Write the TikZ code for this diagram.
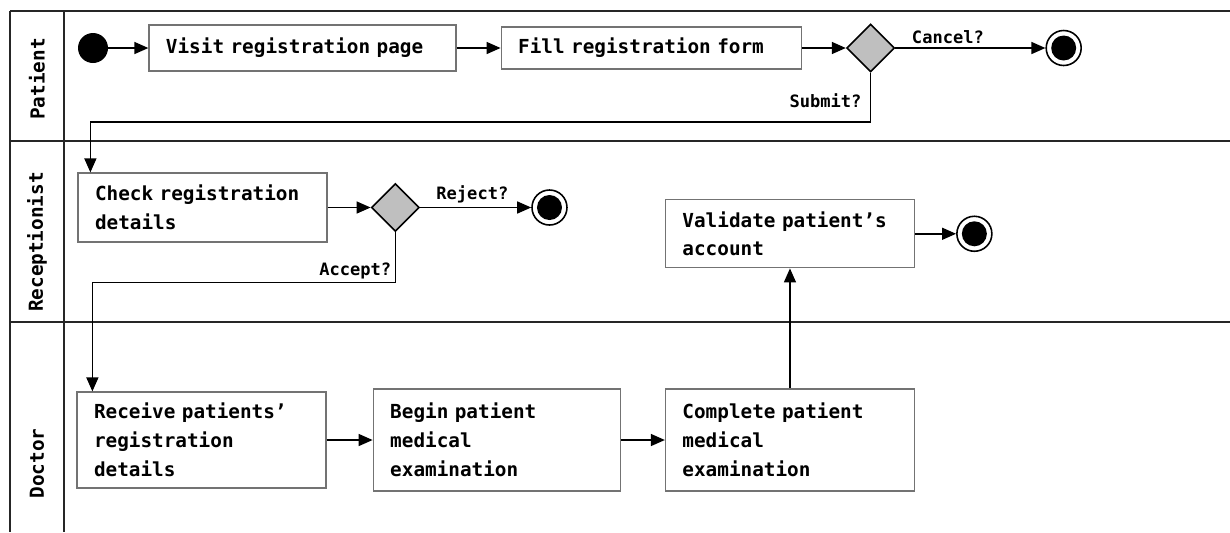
\documentclass[tikz,border=0pt]{standalone}
\usepackage{fontspec}
\setmonofont{DejaVu Sans Mono}
\usetikzlibrary{
  arrows.meta,
  positioning,
  shapes.geometric
}

\begin{document}
\begin{tikzpicture}[
  node distance=9mm and 9mm,
  action/.style={
    draw=black!55,
    line width=0.7pt,
    fill=white,
    align=left,
    text width=43mm,
    inner xsep=3.4mm,
    inner ysep=0pt,
    minimum height=13.8mm,
    font=\ttfamily\bfseries\fontsize{11}{16.5}\selectfont
  },
  decision/.style={
    draw,
    diamond,
    aspect=1,
    line width=0.9pt,
    fill=black!25,
    inner sep=0pt,
    minimum size=9.6mm
  },
  startdot/.style={
    circle,
    fill=black,
    inner sep=0pt,
    minimum size=6mm
  },
  enddot/.style={
    circle,
    draw,
    line width=0.9pt,
    fill=white,
    inner sep=0pt,
    minimum size=7mm,
    path picture={\fill[black] (path picture bounding box.center) circle (2.5mm);}
  },
  lanelabel/.style={
    rotate=90,
    font=\ttfamily\bfseries\fontsize{11}{13}\selectfont
  },
  laneline/.style={
    line width=0.8pt,
    black!85
  },
  guard/.style={
    font=\ttfamily\bfseries\fontsize{9.7}{11}\selectfont,
    inner sep=2pt
  },
  arrow/.style={
    -{Triangle[length=2.8mm,width=2.4mm]},
    line width=0.85pt
  }
]
\useasboundingbox (0,0) rectangle (24.6,-10.64);

% --- swimlanes ---
\foreach \y in {-0.22,-2.82,-6.44}
  \draw[laneline] (0.2,\y) -- (24.6,\y);
\foreach \x in {0.2,1.28}
  \draw[laneline] (\x,-0.22) -- (\x,-10.64);

\node[lanelabel] (lpatient) at (0.74,-1.58) {Patient};
\node[lanelabel] (lrecept) at (0.74,-4.84) {Receptionist};
\node[lanelabel] (ldoctor) at (0.74,-9.27) {Doctor};

% --- patient lane ---
\node[startdot] (start) at (1.86,-0.96) {};
\node[action,right=0.8cm of start,text width=54.6mm,minimum height=9.2mm] (visit)
  {Visit registration page};
\node[action,right=0.88cm of visit,text width=53.2mm,minimum height=8.4mm] (fill)
  {Fill registration form};
\node[decision,right=0.88cm of fill] (dec1) {};
\node[enddot,right=3.0cm of dec1] (end1) {};

% --- receptionist lane ---
\node[action] (check) at (4.05,-4.15)
  {Check registration\\details};
\node[decision,right=0.86cm of check] (dec2) {};
\node[enddot,right=2.22cm of dec2] (end2) {};

% --- doctor lane ---
\node[action,minimum height=19.2mm] (receive) at (4.03,-8.8)
  {Receive patients’\\registration\\details};
\node[action,right=0.92cm of receive,text width=42.6mm,minimum height=20.4mm] (begin)
  {Begin patient\\medical\\examination};
\node[action,right=0.88cm of begin,minimum height=20.4mm] (complete)
  {Complete patient\\medical\\examination};
\node[action,above=2.4cm of complete,minimum height=13.6mm] (validate)
  {Validate patient’s\\account};
\node[enddot,right=0.82cm of validate] (end3) {};

% --- flow ---
\draw[arrow] (start) -- (visit);
\draw[arrow] (visit) -- (fill);
\draw[arrow] (fill) -- (dec1);
\draw[arrow] (dec1) -- node[above,pos=0.35,guard]{Cancel?} (end1);
\draw[arrow] (dec1.south)
  -- node[left,pos=0.57,guard,xshift=-1mm]{Submit?} ++(0,-0.98)
  -| ([xshift=2.6mm]check.north west);
\draw[arrow] (check) -- (dec2);
\draw[arrow] (dec2) -- node[above,pos=0.47,guard]{Reject?} (end2);
\draw[arrow] (dec2.south)
  -- node[left,pos=0.78,guard]{Accept?} ++(0,-1.0)
  -| ([xshift=3.2mm]receive.north west);
\draw[arrow] (receive) -- (begin);
\draw[arrow] (begin) -- (complete);
\draw[arrow] (complete) -- (validate);
\draw[arrow] (validate) -- (end3);

\end{tikzpicture}
\end{document}
